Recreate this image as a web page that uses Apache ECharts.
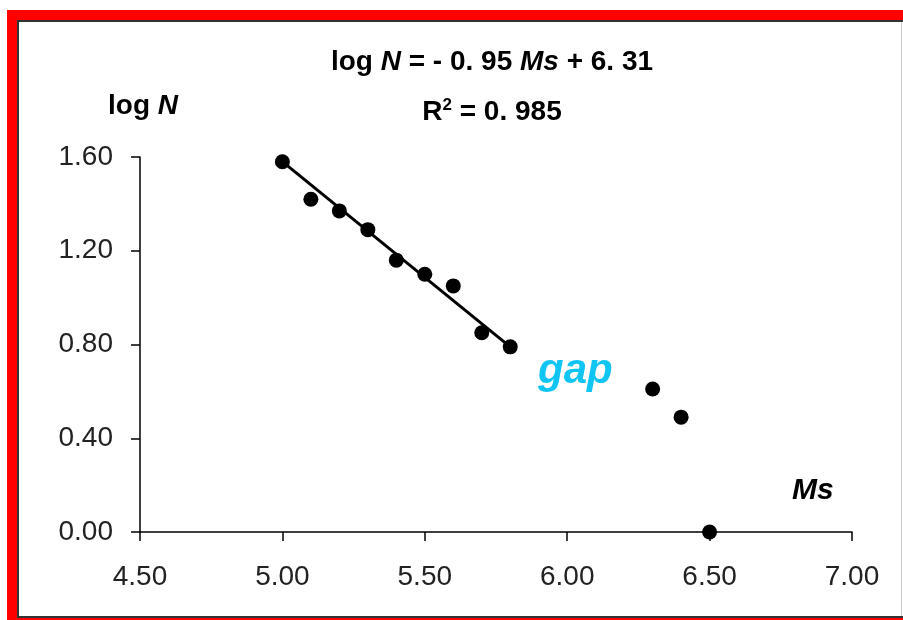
<!DOCTYPE html>
<html>
<head>
<meta charset="utf-8">
<script src="https://cdn.jsdelivr.net/npm/echarts@6/dist/echarts.min.js"></script>
<style>
  html, body { margin: 0; padding: 0; background: #fff; }
  #main { width: 903px; height: 620px; }
</style>
</head>
<body>
<div id="main"></div>
<script>
// data
var msValues = [5.0, 5.1, 5.2, 5.3, 5.4, 5.5, 5.6, 5.7, 5.8, 6.3, 6.4, 6.5];
var logNValues = [1.58, 1.42, 1.37, 1.29, 1.16, 1.10, 1.05, 0.85, 0.79, 0.61, 0.49, 0.00];
// fitted line, log N = -0.95 Ms + 6.31
var fitMs = [5.0, 5.8];
var fitLogN = [1.58, 0.79];

var points = [];
for (var i = 0; i < msValues.length; i++) {
    points.push([msValues[i], logNValues[i]]);
}
var fitPoints = [];
for (var j = 0; j < fitMs.length; j++) {
    fitPoints.push([fitMs[j], fitLogN[j]]);
}

var myChart = echarts.init(document.getElementById('main'));
var font = '"Liberation Sans", Arial, sans-serif';

myChart.setOption({
    backgroundColor: '#fff',
    animation: false,
    title: {
        text: '{n|log }{i|N}{n| = - 0. 95 }{i|Ms}{n| + 6. 31}\n{n|R}{s|2}{n| = 0. 985}',
        left: 487,
        top: 32,
        textAlign: 'center',
        textStyle: {
            rich: {
                n: { fontFamily: font, fontSize: 28, fontWeight: 'bold', color: '#000', lineHeight: 50 },
                i: { fontFamily: font, fontSize: 28, fontWeight: 'bold', fontStyle: 'italic', color: '#000', lineHeight: 50 },
                s: { fontFamily: font, fontSize: 17, fontWeight: 'bold', color: '#000', lineHeight: 50, padding: [0, 0, 14, 0] }
            }
        }
    },
    grid: {
        left: 140,
        right: 51,
        top: 157,
        bottom: 88
    },
    xAxis: {
        type: 'value',
        min: 4.5,
        max: 7,
        interval: 0.5,
        splitLine: { show: false },
        axisLine: { onZero: false, lineStyle: { color: '#000', width: 1.5 } },
        axisTick: { show: true, length: 9, lineStyle: { color: '#000', width: 1.5 } },
        axisLabel: {
            margin: 31,
            color: '#222',
            fontFamily: font,
            fontSize: 28,
            formatter: function (v) { return v.toFixed(2); }
        }
    },
    yAxis: {
        type: 'value',
        min: 0,
        max: 1.6,
        interval: 0.4,
        splitLine: { show: false },
        axisLine: { show: true, lineStyle: { color: '#000', width: 1.5 } },
        axisTick: { show: true, length: 9, lineStyle: { color: '#000', width: 1.5 } },
        axisLabel: {
            margin: 27,
            color: '#222',
            fontFamily: font,
            fontSize: 28,
            formatter: function (v) { return v.toFixed(2); }
        }
    },
    graphic: [
        // red frame
        { type: 'rect', z: -10, silent: true, shape: { x: 7, y: 10, width: 896, height: 610 }, style: { fill: '#ff0000' } },
        { type: 'rect', z: -9, silent: true, shape: { x: 17, y: 20, width: 886, height: 598 }, style: { fill: '#333' } },
        { type: 'rect', z: -8, silent: true, shape: { x: 19, y: 22, width: 884, height: 594 }, style: { fill: '#fff' } },
        { type: 'line', z: -7, silent: true, shape: { x1: 901.5, y1: 22, x2: 901.5, y2: 616 }, style: { stroke: '#ccc', lineWidth: 1 } },
        // labels
        {
            type: 'text', left: 108, top: 92,
            style: {
                text: '{n|log }{i|N}',
                rich: {
                    n: { fontFamily: font, fontSize: 28, fontWeight: 'bold', fill: '#000' },
                    i: { fontFamily: font, fontSize: 28, fontWeight: 'bold', fontStyle: 'italic', fill: '#000' }
                }
            }
        },
        {
            type: 'text', left: 538, top: 350,
            style: { text: 'gap', font: 'italic bold 42px ' + font, fill: '#10c4f4' }
        },
        {
            type: 'text', left: 792, top: 476,
            style: { text: 'Ms', font: 'italic bold 30px ' + font, fill: '#000' }
        }
    ],
    series: [
        {
            name: 'fit',
            type: 'line',
            data: fitPoints,
            symbol: 'none',
            lineStyle: { color: '#000', width: 3 },
            z: 2
        },
        {
            name: 'data',
            type: 'scatter',
            data: points,
            symbol: 'circle',
            symbolSize: 15,
            itemStyle: { color: '#000', opacity: 1 },
            z: 3
        }
    ]
});
</script>
</body>
</html>
